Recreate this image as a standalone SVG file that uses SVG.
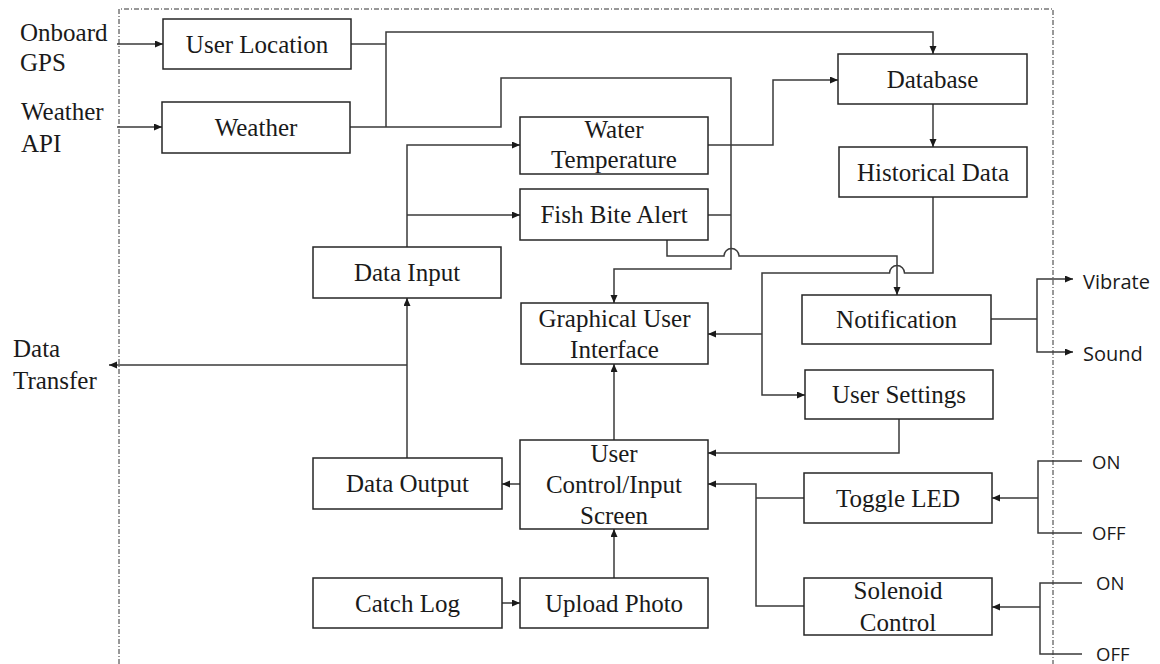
<svg xmlns="http://www.w3.org/2000/svg" width="1160" height="664" viewBox="0 0 1160 664">
  <style>
    .box { fill: #ffffff; stroke: #262626; stroke-width: 1.5; }
    .lbl { font-family: "Liberation Serif", "Times New Roman", serif; font-size: 25px; fill: #1a1a1a; text-anchor: middle; }
    .ext { font-family: "Liberation Serif", "Times New Roman", serif; font-size: 25px; fill: #1a1a1a; }
    .sans { font-family: "Open Sans", "Noto Sans", sans-serif; font-size: 18.5px; fill: #1a1a1a; }
    .sans-l { font-family: "Open Sans", "Noto Sans", sans-serif; font-size: 20px; fill: #1a1a1a; }
    .wire { fill: none; stroke: #3a3a3a; stroke-width: 1.5; }
    .arr { fill: none; stroke: #3a3a3a; stroke-width: 1.5; marker-end: url(#head); }
    .frame { fill: none; stroke: #333333; stroke-width: 1; stroke-dasharray: 5 2 1 2; }
  </style>
  <defs>
    <marker id="head" markerUnits="userSpaceOnUse" markerWidth="9" markerHeight="8" refX="8" refY="3.5" orient="auto">
      <path d="M0,0 L8,3.5 L0,7 z" fill="#1a1a1a"/>
    </marker>
  </defs>

  <rect width="1160" height="664" fill="#ffffff"/>

  <!-- system boundary -->
  <path class="frame" d="M119,664 V9 H1053 V664"/>

  <!-- external labels -->
  <g id="ext-gps"><text class="ext" x="20" y="41">Onboard</text><text class="ext" x="20" y="71">GPS</text></g>
  <g id="ext-weather-api"><text class="ext" x="21" y="120">Weather</text><text class="ext" x="21" y="152">API</text></g>
  <g id="ext-data-transfer"><text class="ext" x="13" y="357">Data</text><text class="ext" x="13" y="389">Transfer</text></g>
  <g id="ext-vibrate"><text class="sans-l" x="1083" y="289">Vibrate</text></g>
  <g id="ext-sound"><text class="sans-l" x="1083" y="361">Sound</text></g>
  <g id="ext-led-on"><text class="sans" x="1092" y="469">ON</text></g>
  <g id="ext-led-off"><text class="sans" x="1092" y="540">OFF</text></g>
  <g id="ext-sol-on"><text class="sans" x="1096" y="590">ON</text></g>
  <g id="ext-sol-off"><text class="sans" x="1096" y="661">OFF</text></g>

  <!-- connectors -->
  <g id="connectors">
    <path class="arr" d="M117,44 H163"/>
    <path class="arr" d="M117,127 H162"/>
    <path class="wire" d="M351,44 H386"/>
    <path class="arr" d="M386,127 V32 H933 V54"/>
    <path class="arr" d="M350,127 H501 V78 H731 V269 H614 V303"/>
    <path class="arr" d="M708,145 H773 V80 H838"/>
    <path class="wire" d="M708,215 H731"/>
    <path class="arr" d="M667,240 V256 H724 A7.5,7.5 0 0 1 739,256 H897 V295"/>
    <path class="arr" d="M933,197 V273 H904.5 A7.5,7.5 0 0 0 889.5,273 H762 V395 H805"/>
    <path class="arr" d="M762,334 H708"/>
    <path class="arr" d="M933,104 V147"/>
    <path class="wire" d="M991,319 H1037"/>
    <path class="arr" d="M1037,319 V279 H1073"/>
    <path class="arr" d="M1037,319 V352 H1073"/>
    <path class="arr" d="M899,419 V453 H708"/>
    <path class="wire" d="M804,498 H756"/>
    <path class="arr" d="M804,606 H756 V484 H708"/>
    <path class="wire" d="M1082,461 H1038 V533 H1082"/>
    <path class="arr" d="M1038,498 H992"/>
    <path class="wire" d="M1082,583 H1040 V654 H1082"/>
    <path class="arr" d="M1040,607 H992"/>
    <path class="arr" d="M520,484 H502"/>
    <path class="arr" d="M614,440 V364"/>
    <path class="arr" d="M614,578 V529"/>
    <path class="arr" d="M502,603 H520"/>
    <path class="arr" d="M407,458 V298"/>
    <path class="arr" d="M407,365 H109"/>
    <path class="arr" d="M407,247 V145 H520"/>
    <path class="arr" d="M407,215 H520"/>
  </g>

  <!-- nodes -->
  <g id="user-location"><rect class="box" x="163" y="19" width="188" height="50"/><text class="lbl" x="257" y="53">User Location</text></g>
  <g id="weather"><rect class="box" x="162" y="102" width="188" height="51"/><text class="lbl" x="256" y="136">Weather</text></g>
  <g id="database"><rect class="box" x="838" y="54" width="189" height="50"/><text class="lbl" x="932.5" y="88">Database</text></g>
  <g id="water-temperature"><rect class="box" x="520" y="117" width="188" height="57"/><text class="lbl" x="614" y="138">Water</text><text class="lbl" x="614" y="168">Temperature</text></g>
  <g id="historical-data"><rect class="box" x="839" y="147" width="188" height="50"/><text class="lbl" x="933" y="181">Historical Data</text></g>
  <g id="fish-bite-alert"><rect class="box" x="520" y="189" width="188" height="51"/><text class="lbl" x="614" y="223">Fish Bite Alert</text></g>
  <g id="data-input"><rect class="box" x="313" y="247" width="188" height="51"/><text class="lbl" x="407" y="281">Data Input</text></g>
  <g id="gui"><rect class="box" x="521" y="303" width="187" height="61"/><text class="lbl" x="614.5" y="327">Graphical User</text><text class="lbl" x="614.5" y="358">Interface</text></g>
  <g id="notification"><rect class="box" x="802" y="295" width="189" height="49"/><text class="lbl" x="896.5" y="328">Notification</text></g>
  <g id="user-settings"><rect class="box" x="805" y="370" width="188" height="49"/><text class="lbl" x="899" y="403">User Settings</text></g>
  <g id="user-control"><rect class="box" x="520" y="440" width="188" height="89"/><text class="lbl" x="614" y="462">User</text><text class="lbl" x="614" y="493">Control/Input</text><text class="lbl" x="614" y="524">Screen</text></g>
  <g id="data-output"><rect class="box" x="313" y="458" width="189" height="51"/><text class="lbl" x="407.5" y="492">Data Output</text></g>
  <g id="toggle-led"><rect class="box" x="804" y="473" width="188" height="50"/><text class="lbl" x="898" y="507">Toggle LED</text></g>
  <g id="catch-log"><rect class="box" x="313" y="578" width="189" height="50"/><text class="lbl" x="407.5" y="612">Catch Log</text></g>
  <g id="upload-photo"><rect class="box" x="520" y="578" width="188" height="50"/><text class="lbl" x="614" y="612">Upload Photo</text></g>
  <g id="solenoid-control"><rect class="box" x="804" y="578" width="188" height="57"/><text class="lbl" x="898" y="599">Solenoid</text><text class="lbl" x="898" y="631">Control</text></g>
</svg>
